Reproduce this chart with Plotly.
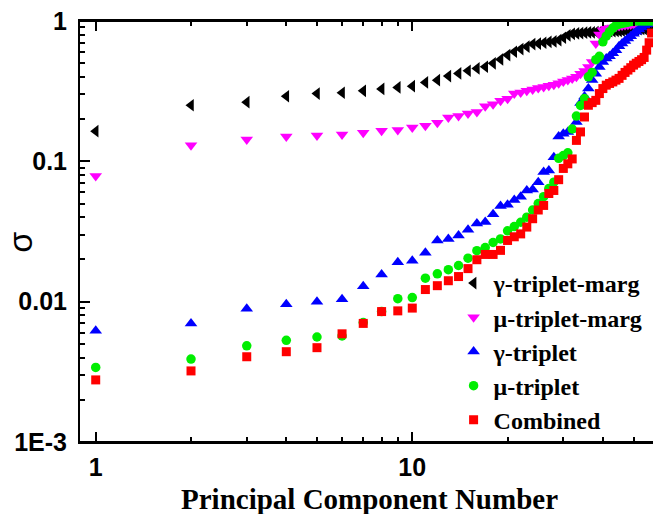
import plotly.graph_objects as go
import math

pc = list(range(1, 58))

gamma_marg = [0.164, 0.251, 0.264, 0.291, 0.304, 0.308, 0.318, 0.328, 0.336, 0.343,
              0.365, 0.379, 0.405, 0.423, 0.442, 0.459, 0.472, 0.499, 0.532, 0.572,
              0.604, 0.631, 0.656, 0.685, 0.69, 0.70, 0.71, 0.715, 0.73, 0.76,
              0.79, 0.81, 0.815, 0.82, 0.825, 0.83, 0.83, 0.835, 0.835, 0.84,
              0.84, 0.845, 0.845, 0.85, 0.85, 0.855, 0.86, 0.86, 0.865, 0.87,
              0.87, 0.875, 0.88, 0.88, 0.885, 0.89, 0.90]

mu_marg = [0.0785, 0.130, 0.143, 0.150, 0.153, 0.155, 0.160, 0.165, 0.167, 0.174,
           0.179, 0.188, 0.205, 0.210, 0.219, 0.225, 0.247, 0.255, 0.270, 0.279,
           0.304, 0.309, 0.318, 0.325, 0.333, 0.338, 0.345, 0.352, 0.360, 0.370,
           0.380, 0.39, 0.40, 0.42, 0.44, 0.47, 0.51, 0.69, 0.80, 0.86,
           0.88, 0.89, 0.90, 0.91, 0.92, 0.93, 0.935, 0.94, 0.945, 0.95,
           0.955, 0.96, 0.965, 0.97, 0.975, 0.98, 0.985]

gamma_trip = [0.0062, 0.0070, 0.0089, 0.0096, 0.0100, 0.0104, 0.0129, 0.0156, 0.0191, 0.0196,
              0.0223, 0.0273, 0.0280, 0.0296, 0.0326, 0.036, 0.037, 0.042, 0.048, 0.049,
              0.053, 0.056, 0.062, 0.063, 0.071, 0.084, 0.086, 0.107, 0.150, 0.157,
              0.162, 0.168, 0.191, 0.26, 0.29, 0.33, 0.38, 0.42, 0.47, 0.51,
              0.54, 0.56, 0.59, 0.62, 0.66, 0.69, 0.72, 0.75, 0.78, 0.81,
              0.84, 0.87, 0.90, 0.93, 0.95, 0.97, 0.99]

mu_trip = [0.0034, 0.0039, 0.00485, 0.0053, 0.0056, 0.0057, 0.0071, 0.0085, 0.0105, 0.0107,
           0.0147, 0.0158, 0.0169, 0.0181, 0.0204, 0.0231, 0.0243, 0.0264, 0.028, 0.032,
           0.0343, 0.0368, 0.040, 0.045, 0.050, 0.056, 0.064, 0.071, 0.105, 0.110,
           0.115, 0.17, 0.21, 0.25, 0.28, 0.40, 0.43, 0.53, 0.56, 0.71,
           0.78, 0.84, 0.89, 0.93, 0.95, 0.96, 0.97, 0.98, 0.99, 1.0,
           1.0, 1.0, 1.0, 1.0, 1.0, 1.0, 1.0]

combined = [0.00277, 0.00321, 0.00405, 0.0044, 0.0047, 0.0059, 0.0070, 0.0085, 0.0086, 0.0090,
            0.0122, 0.0130, 0.0141, 0.0151, 0.0172, 0.0199, 0.0217, 0.0217, 0.0232, 0.0273,
            0.029, 0.0304, 0.034, 0.039, 0.045, 0.0485, 0.059, 0.062, 0.074, 0.089,
            0.096, 0.104, 0.141, 0.162, 0.207, 0.251, 0.262, 0.272, 0.304, 0.330,
            0.349, 0.359, 0.368, 0.379, 0.39, 0.41, 0.43, 0.447, 0.465, 0.485,
            0.50, 0.515, 0.53, 0.55, 0.62, 0.70, 0.82]

series_names = ["γ-triplet-marg", "μ-triplet-marg", "γ-triplet", "μ-triplet", "Combined"]
series_values = [gamma_marg, mu_marg, gamma_trip, mu_trip, combined]
series_symbols = ["triangle-left", "triangle-down", "triangle-up", "circle", "square"]
series_colors = ["#000000", "#FF00FF", "#0000FF", "#00EE00", "#FF0000"]
series_sizes = [11, 11, 11, 9.5, 9]

x_major = [1, 10]
x_major_text = ["1", "10"]
x_minor = [2, 3, 4, 5, 6, 7, 8, 9, 20, 30, 40, 50]
y_major = [0.001, 0.01, 0.1, 1]
y_major_text = ["1E-3", "0.01", "0.1", "1"]
y_minor = [m * d for d in (0.001, 0.01, 0.1) for m in range(2, 10)]

fig = go.Figure()
for name, vals, sym, col, sz in zip(series_names, series_values, series_symbols,
                                     series_colors, series_sizes):
    fig.add_trace(go.Scatter(
        x=pc, y=vals, mode="markers", name=name,
        marker=dict(symbol=sym, color=col, size=sz, line=dict(width=0)),
    ))

tickfont = dict(family="Liberation Sans", size=25, color="black", weight="bold")

fig.update_layout(
    width=653, height=514,
    margin=dict(l=80, r=0, t=21, b=72, autoexpand=False),
    paper_bgcolor="white", plot_bgcolor="white",
    showlegend=True,
    legend=dict(
        x=0.652, y=0.43, xanchor="left", yanchor="top",
        bgcolor="rgba(0,0,0,0)", borderwidth=0,
        font=dict(family="Liberation Serif", size=24, color="black", weight="bold"),
        tracegroupgap=0, itemsizing="trace",
    ),
    xaxis=dict(
        type="log", range=[math.log10(0.892), math.log10(57.6)],
        tickmode="array", tickvals=x_major, ticktext=x_major_text,
        ticks="inside", ticklen=10, tickwidth=2, tickcolor="black",
        minor=dict(tickmode="array", tickvals=x_minor, ticks="inside",
                   ticklen=5, tickwidth=2, tickcolor="black", showgrid=False),
        showline=True, linewidth=2, linecolor="black", mirror="allticks",
        showgrid=False, zeroline=False, tickfont=tickfont,
        ticklabelstandoff=2, automargin=False,
    ),
    yaxis=dict(
        type="log", range=[-3, 0],
        tickmode="array", tickvals=y_major, ticktext=y_major_text,
        ticks="inside", ticklen=10, tickwidth=2, tickcolor="black",
        minor=dict(tickmode="array", tickvals=y_minor, ticks="inside",
                   ticklen=5, tickwidth=2, tickcolor="black", showgrid=False),
        showline=True, linewidth=2, linecolor="black", mirror=False,
        showgrid=False, zeroline=False, tickfont=tickfont,
        ticklabelstandoff=6, automargin=False, ticklabeloverflow="allow",
    ),
    shapes=[
        dict(type="line", xref="paper", yref="paper", x0=0, x1=1, y0=0, y1=0,
             line=dict(color="black", width=2), layer="above"),
        dict(type="line", xref="paper", yref="paper", x0=0, x1=1, y0=1, y1=1,
             line=dict(color="black", width=2), layer="above"),
    ],
    annotations=[
        dict(
            text="σ", textangle=-90, showarrow=False,
            xref="paper", yref="paper", x=-0.105, y=0.475,
            xanchor="center", yanchor="middle",
            font=dict(family="Liberation Sans", size=34, color="black"),
        ),
        dict(
            text="Principal Component Number", showarrow=False,
            xref="paper", yref="paper", x=0.506, y=-0.136,
            xanchor="center", yanchor="middle",
            font=dict(family="Liberation Serif", size=29, color="black", weight="bold"),
        ),
    ],
)

fig.write_html("out.html", config={"displayModeBar": False},
               post_script="document.body.style.margin='0';document.body.style.overflow='hidden';")
